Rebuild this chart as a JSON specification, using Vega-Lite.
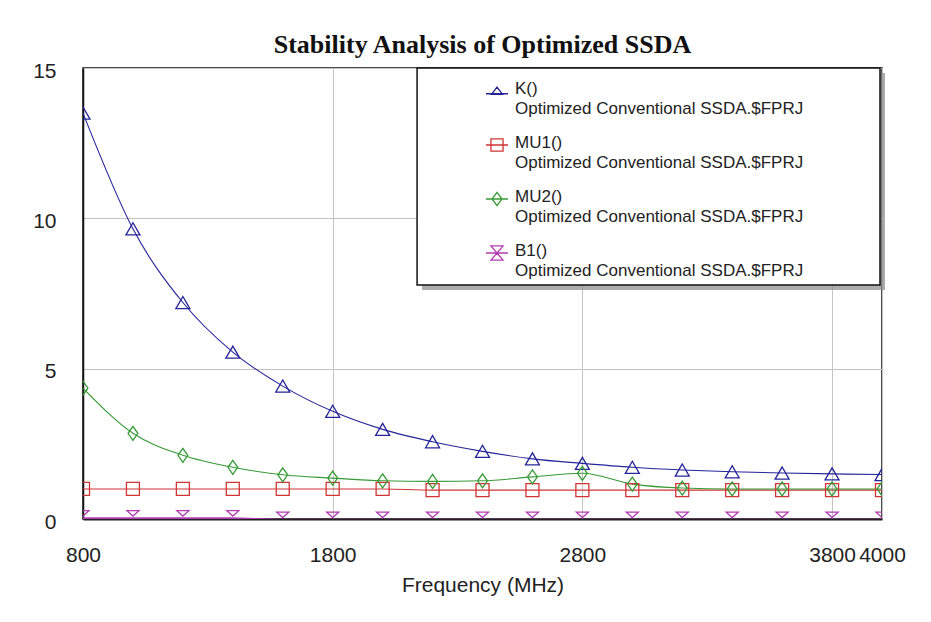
{
  "$schema": "https://vega.github.io/schema/vega-lite/v6.json",
  "autosize": "none",
  "width": 799,
  "height": 451,
  "padding": {"left": 83, "top": 68, "right": 49, "bottom": 103},
  "background": "white",
  "title": {
    "text": "Stability Analysis of Optimized SSDA",
    "font": "Liberation Serif",
    "fontSize": 26,
    "fontWeight": "bold",
    "color": "#111",
    "anchor": "middle",
    "frame": "group",
    "baseline": "alphabetic",
    "offset": 15,
    "dy": 34
  },
  "config": {
    "view": {"stroke": "#111", "strokeWidth": 1.5},
    "axis": {
      "labelFont": "Liberation Sans",
      "labelFontSize": 21,
      "labelColor": "#222",
      "titleFont": "Liberation Sans",
      "titleFontSize": 21,
      "titleFontWeight": "normal",
      "titleColor": "#222",
      "ticks": false,
      "gridColor": "#c4c4c4",
      "gridWidth": 1,
      "domainColor": "#222"
    }
  },
  "data": {
    "values": [
      {"f": 800, "series": "K()", "v": 13.5},
      {"f": 1000, "series": "K()", "v": 9.65},
      {"f": 1200, "series": "K()", "v": 7.2},
      {"f": 1400, "series": "K()", "v": 5.55},
      {"f": 1600, "series": "K()", "v": 4.42},
      {"f": 1800, "series": "K()", "v": 3.58},
      {"f": 2000, "series": "K()", "v": 2.98},
      {"f": 2200, "series": "K()", "v": 2.57},
      {"f": 2400, "series": "K()", "v": 2.25},
      {"f": 2600, "series": "K()", "v": 2.0},
      {"f": 2800, "series": "K()", "v": 1.85},
      {"f": 3000, "series": "K()", "v": 1.72},
      {"f": 3200, "series": "K()", "v": 1.63},
      {"f": 3400, "series": "K()", "v": 1.57},
      {"f": 3600, "series": "K()", "v": 1.53},
      {"f": 3800, "series": "K()", "v": 1.5},
      {"f": 4000, "series": "K()", "v": 1.48},
      {"f": 800, "series": "MU1()", "v": 1.0},
      {"f": 1000, "series": "MU1()", "v": 1.0},
      {"f": 1200, "series": "MU1()", "v": 1.0},
      {"f": 1400, "series": "MU1()", "v": 1.0},
      {"f": 1600, "series": "MU1()", "v": 1.0},
      {"f": 1800, "series": "MU1()", "v": 1.0},
      {"f": 2000, "series": "MU1()", "v": 1.0},
      {"f": 2200, "series": "MU1()", "v": 0.96},
      {"f": 2400, "series": "MU1()", "v": 0.96},
      {"f": 2600, "series": "MU1()", "v": 0.96},
      {"f": 2800, "series": "MU1()", "v": 0.96},
      {"f": 3000, "series": "MU1()", "v": 0.96},
      {"f": 3200, "series": "MU1()", "v": 0.96},
      {"f": 3400, "series": "MU1()", "v": 0.96},
      {"f": 3600, "series": "MU1()", "v": 0.96},
      {"f": 3800, "series": "MU1()", "v": 0.96},
      {"f": 4000, "series": "MU1()", "v": 0.96},
      {"f": 800, "series": "MU2()", "v": 4.35},
      {"f": 1000, "series": "MU2()", "v": 2.85},
      {"f": 1200, "series": "MU2()", "v": 2.12},
      {"f": 1400, "series": "MU2()", "v": 1.72},
      {"f": 1600, "series": "MU2()", "v": 1.47},
      {"f": 1800, "series": "MU2()", "v": 1.36},
      {"f": 2000, "series": "MU2()", "v": 1.27},
      {"f": 2200, "series": "MU2()", "v": 1.25},
      {"f": 2400, "series": "MU2()", "v": 1.27},
      {"f": 2600, "series": "MU2()", "v": 1.4},
      {"f": 2800, "series": "MU2()", "v": 1.52},
      {"f": 3000, "series": "MU2()", "v": 1.16},
      {"f": 3200, "series": "MU2()", "v": 1.03},
      {"f": 3400, "series": "MU2()", "v": 1.0},
      {"f": 3600, "series": "MU2()", "v": 1.0},
      {"f": 3800, "series": "MU2()", "v": 1.0},
      {"f": 4000, "series": "MU2()", "v": 1.0},
      {"f": 800, "series": "B1()", "v": 0.02},
      {"f": 1000, "series": "B1()", "v": 0.02},
      {"f": 1200, "series": "B1()", "v": 0.02},
      {"f": 1400, "series": "B1()", "v": 0.02},
      {"f": 1600, "series": "B1()", "v": -0.03},
      {"f": 1800, "series": "B1()", "v": -0.03},
      {"f": 2000, "series": "B1()", "v": -0.03},
      {"f": 2200, "series": "B1()", "v": -0.03},
      {"f": 2400, "series": "B1()", "v": -0.03},
      {"f": 2600, "series": "B1()", "v": -0.03},
      {"f": 2800, "series": "B1()", "v": -0.03},
      {"f": 3000, "series": "B1()", "v": -0.03},
      {"f": 3200, "series": "B1()", "v": -0.03},
      {"f": 3400, "series": "B1()", "v": -0.03},
      {"f": 3600, "series": "B1()", "v": -0.03},
      {"f": 3800, "series": "B1()", "v": -0.03},
      {"f": 4000, "series": "B1()", "v": -0.03}
    ]
  },
  "encoding": {
    "x": {
      "field": "f",
      "type": "quantitative",
      "scale": {"domain": [800, 4000], "nice": false, "zero": false},
      "axis": {
        "title": "Frequency (MHz)",
        "values": [800, 1800, 2800, 3800, 4000],
        "format": "d",
        "labelOverlap": false,
        "labelFlush": false,
        "labelPadding": 25,
        "titlePadding": 9,
        "domainWidth": 2,
        "grid": true
      }
    },
    "y": {
      "field": "v",
      "type": "quantitative",
      "scale": {"domain": [0, 15], "nice": false, "zero": false},
      "axis": {
        "title": null,
        "values": [0, 5, 10, 15],
        "labelPadding": 27,
        "labelOffset": 3,
        "domainWidth": 1.5,
        "domainColor": "#111",
        "grid": true
      }
    },
    "color": {
      "field": "series",
      "type": "nominal",
      "scale": {
        "domain": ["K()", "MU1()", "MU2()", "B1()"],
        "range": ["#24249a", "#d03434", "#369a36", "#b23cb2"]
      },
      "legend": {
        "title": null,
        "orient": "none",
        "legendX": 334,
        "legendY": 3,
        "padding": 8,
        "symbolOffset": 60,
        "symbolSize": 484,
        "symbolStrokeWidth": 1.3,
        "symbolFillColor": "transparent",
        "labelOffset": 6,
        "labelLimit": 700,
        "labelFont": "Liberation Sans",
        "labelFontSize": 17,
        "labelColor": "#222",
        "labelBaseline": "top",
        "rowPadding": 16,
        "labelExpr": "[datum.label, 'Optimized Conventional SSDA.$FPRJ']",
        "encode": {
          "labels": {"update": {"dy": {"value": -10}, "lineHeight": {"value": 20}}},
          "symbols": {
            "update": {
              "fill": {"value": "transparent"},
              "strokeWidth": {"value": 1.3},
              "shape": {"signal": "datum.value === 'K()' ? 'M-1,0.25L1,0.25M-0.5,0.3L0,-0.35L0.5,0.3Z' : datum.value === 'MU1()' ? 'M-1,0L1,0M-0.55,-0.55L0.55,-0.55L0.55,0.55L-0.55,0.55Z' : datum.value === 'MU2()' ? 'M-1,0L1,0M0,-0.6L0.45,0L0,0.6L-0.45,0Z' : 'M-1,0L1,0M-0.55,-0.65L0.55,-0.65L-0.55,0.65L0.55,0.65Z'"}
            }
          }
        }
      }
    }
  },
  "layer": [
    {
      "transform": [{"filter": "datum.series === 'K()' && datum.f === 800"}],
      "mark": {"type": "rect", "opacity": 0.7, "xOffset": 5, "x2Offset": 5, "yOffset": 5, "y2Offset": 5},
      "encoding": {
        "x": {"datum": 2138, "type": "quantitative"},
        "x2": {"datum": 3992},
        "y": {"datum": 15, "type": "quantitative"},
        "y2": {"datum": 7.78},
        "color": {"value": "#8a8a8a"}
      }
    },
    {
      "transform": [{"filter": "datum.series === 'K()' && datum.f === 800"}],
      "mark": {"type": "rect", "stroke": "#111", "strokeWidth": 1.5},
      "encoding": {
        "x": {"datum": 2138, "type": "quantitative"},
        "x2": {"datum": 3992},
        "y": {"datum": 15, "type": "quantitative"},
        "y2": {"datum": 7.78},
        "color": {"value": "white"}
      }
    },
    {
      "transform": [{"filter": "datum.series !== 'B1()'"}],
      "mark": {"type": "line", "interpolate": "monotone", "strokeWidth": 1.1, "clip": true}
    },
    {
      "transform": [{"filter": "datum.series === 'B1()'"}],
      "mark": {"type": "line", "strokeWidth": 2.2, "clip": true}
    },
    {
      "transform": [{"filter": "datum.series === 'K()'"}],
      "mark": {"type": "point", "shape": "triangle-up", "size": 196, "filled": false, "strokeWidth": 1.3, "clip": true, "opacity": 1}
    },
    {
      "transform": [{"filter": "datum.series === 'MU1()'"}],
      "mark": {"type": "point", "shape": "square", "size": 169, "filled": false, "strokeWidth": 1.3, "clip": true, "opacity": 1}
    },
    {
      "transform": [{"filter": "datum.series === 'MU2()'"}],
      "mark": {"type": "point", "shape": "M0,-1L0.7,0L0,1L-0.7,0Z", "size": 196, "filled": false, "strokeWidth": 1.3, "clip": true, "opacity": 1}
    },
    {
      "transform": [{"filter": "datum.series === 'B1()'"}],
      "mark": {"type": "point", "shape": "M-1,-0.45L1,-0.45L0,0.45Z", "size": 144, "filled": false, "strokeWidth": 1.3, "clip": true, "opacity": 1, "yOffset": -5}
    }
  ]
}
